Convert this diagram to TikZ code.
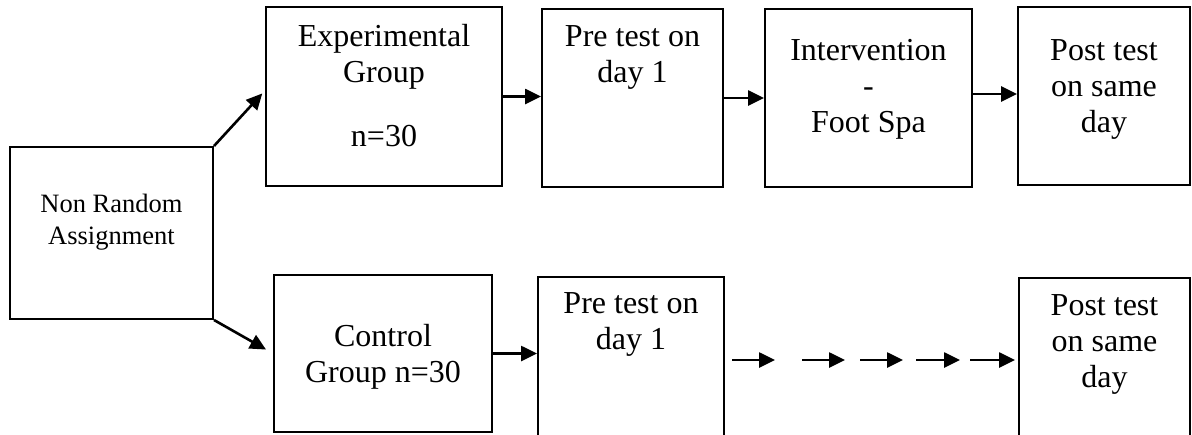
\documentclass[tikz,border=0pt]{standalone}
\usepackage{fontspec}
\setmainfont{Liberation Serif}
\usetikzlibrary{positioning, calc}
\usetikzlibrary{arrows.meta}

\begin{document}
\begin{tikzpicture}[x=0.5pt,y=-0.5pt]
  \tikzstyle{box}=[draw,line width=1pt,inner sep=0pt]
  \tikzstyle{txt}=[align=center,inner sep=0pt,font=\fontsize{16}{18}\selectfont]
  \tikzstyle{arr}=[-{Triangle[length=8pt,width=7.5pt]},line width=1.3pt]

  \useasboundingbox (0,0) rectangle (1192,434);
  \clip (0,0) rectangle (1192,434);

  % boxes
  \node[box,minimum width=101.5pt,minimum height=86pt] (nra) at (111.5,233) {};
  \node[box,minimum width=118pt,minimum height=89.5pt] (exp) at (384,96.5) {};
  \node[box,minimum width=90.5pt,minimum height=89pt] (pre1) at (632.5,98) {};
  \node[box,minimum width=103.5pt,minimum height=89pt] (intv) at (868.5,98) {};
  \node[box,minimum width=86pt,minimum height=89pt] (post1) at (1104,96) {};
  \node[box,minimum width=109pt,minimum height=78.5pt] (ctrl) at (383,353.5) {};
  \node[box,minimum width=93pt,minimum height=111.5pt] (pre2) at (631,388.5) {};
  \node[box,minimum width=85.5pt,minimum height=111pt] (post2) at (1104.5,389) {};

  % texts
  \node[txt,font=\fontsize{13.25}{16}\selectfont,below=24pt of nra.north] (nrat) {Non Random\\Assignment};
  \node[txt,below=9pt of exp.north] (expt) {Experimental\\Group\\[14pt]n=30};
  \node[txt,below=8.5pt of pre1.north] (pre1t) {Pre test on\\day 1};
  \node[txt,below=15.5pt of intv.north] (intvt) {Intervention\\-\\Foot Spa};
  \node[txt,below=16.5pt of post1.north] (post1t) {Post test\\on same\\day};
  \node[txt,below=25pt of ctrl.north] (ctrlt) {Control\\Group n=30};
  \node[txt,below=8pt of pre2.north] (pre2t) {Pre test on\\day 1};
  \node[txt,below=8.5pt of post2.north] (post2t) {Post test\\on same\\day};

  % arrows
  \draw[arr,shorten >=2pt] (nra.north east) -- ([yshift=3pt]exp.west);
  \draw[arr,shorten >=4pt] (nra.south east) -- (ctrl.west);
  \draw[arr] (exp.east) -- (exp.east -| pre1.west);
  \draw[arr] (pre1.east) -- (pre1.east -| intv.west);
  \draw[arr] ([yshift=2pt]intv.east) -- ([yshift=2pt]intv.east -| post1.west);
  \draw[arr] (ctrl.east) -- (ctrl.east -| pre2.west);
  \foreach \s/\e [count=\i] in {732/775, 802/845, 860/903, 916/960, 970/1015} {
    \coordinate (ds\i) at (\s,360);
    \coordinate (de\i) at (\e,360);
    \draw[arr] (ds\i) -- (de\i);
  }
\end{tikzpicture}
\end{document}
